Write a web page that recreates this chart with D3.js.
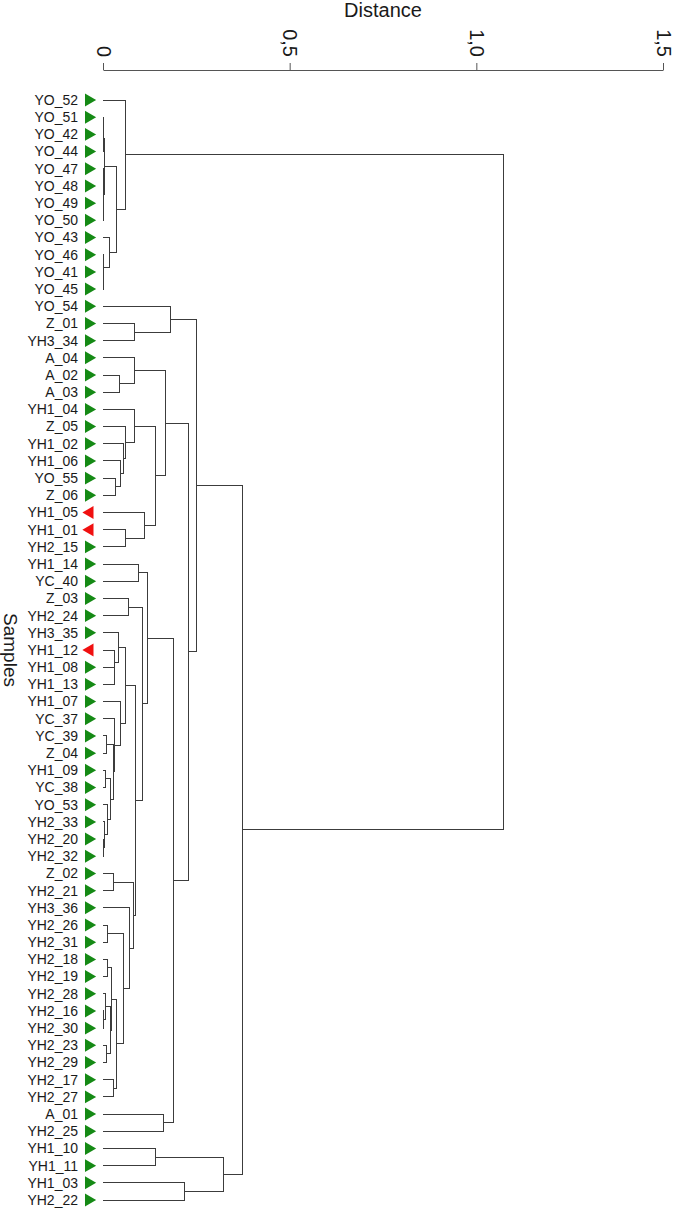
<!DOCTYPE html>
<html>
<head>
<meta charset="utf-8">
<script src="https://cdn.jsdelivr.net/npm/d3@7"></script>
<style>
  body { margin: 0; background: #fff; }
  svg { display: block; font-family: Arial, "Liberation Sans", sans-serif; }
</style>
</head>
<body>
<script>
// leaf order, top to bottom
var samples = ["YO_52","YO_51","YO_42","YO_44","YO_47","YO_48","YO_49","YO_50","YO_43","YO_46","YO_41","YO_45",
  "YO_54","Z_01","YH3_34","A_04","A_02","A_03","YH1_04","Z_05","YH1_02","YH1_06","YO_55","Z_06",
  "YH1_05","YH1_01","YH2_15","YH1_14","YC_40","Z_03","YH2_24","YH3_35","YH1_12","YH1_08","YH1_13",
  "YH1_07","YC_37","YC_39","Z_04","YH1_09","YC_38","YO_53","YH2_33","YH2_20","YH2_32","Z_02","YH2_21",
  "YH3_36","YH2_26","YH2_31","YH2_18","YH2_19","YH2_28","YH2_16","YH2_30","YH2_23","YH2_29","YH2_17",
  "YH2_27","A_01","YH2_25","YH1_10","YH1_11","YH1_03","YH2_22"];

// samples drawn with the red, left-pointing marker
var flipped = ["YH1_05","YH1_01","YH1_12"];

// merge table: [left, right, distance]; a string is a sample, a number is an earlier row
var merges = [
  ["YO_51","YO_42",0.001],   // 0
  [0,"YO_44",0.002],         // 1
  ["YO_47","YO_48",0.001],   // 2
  ["YO_49","YO_50",0.001],   // 3
  [2,3,0.002],               // 4
  [1,4,0.003],               // 5
  ["YO_41","YO_45",0.001],   // 6
  ["YO_46",6,0.002],         // 7
  ["YO_43",7,0.017],         // 8
  [5,8,0.036],               // 9
  ["YO_52",9,0.061],         // 10
  ["Z_01","YH3_34",0.084],   // 11
  ["YO_54",11,0.181],        // 12
  ["A_02","A_03",0.044],     // 13
  ["A_04",13,0.085],         // 14
  ["YO_55","Z_06",0.033],    // 15
  ["YH1_06",15,0.047],       // 16
  ["YH1_02",16,0.054],       // 17
  ["Z_05",17,0.061],         // 18
  ["YH1_04",18,0.084],       // 19
  ["YH1_01","YH2_15",0.061], // 20
  ["YH1_05",20,0.110],       // 21
  [19,21,0.141],             // 22
  [14,22,0.167],             // 23
  ["YH1_14","YC_40",0.094],  // 24
  ["Z_03","YH2_24",0.069],   // 25
  ["YH1_08","YH1_13",0.030], // 26
  ["YH1_12",26,0.032],       // 27
  ["YH3_35",27,0.041],       // 28
  ["YC_39","Z_04",0.010],    // 29
  ["YH1_09","YC_38",0.008],  // 30
  ["YH2_20","YH2_32",0.001], // 31
  ["YH2_33",31,0.003],       // 32
  ["YO_53",32,0.013],        // 33
  [30,33,0.019],             // 34
  [29,34,0.027],             // 35
  ["YC_37",35,0.030],        // 36
  ["YH1_07",36,0.048],       // 37
  [28,37,0.059],             // 38
  ["Z_02","YH2_21",0.029],   // 39
  ["YH2_26","YH2_31",0.011], // 40
  ["YH2_18","YH2_19",0.011], // 41
  ["YH2_16","YH2_30",0.002], // 42
  ["YH2_28",42,0.008],       // 43
  ["YH2_23","YH2_29",0.010], // 44
  [43,44,0.019],             // 45
  [41,45,0.023],             // 46
  ["YH2_17","YH2_27",0.028], // 47
  [46,47,0.036],             // 48
  [40,48,0.054],             // 49
  ["YH3_36",49,0.072],       // 50
  [39,50,0.083],             // 51
  [38,51,0.087],             // 52
  [25,52,0.105],             // 53
  [24,53,0.118],             // 54
  ["A_01","YH2_25",0.163],   // 55
  [54,55,0.189],             // 56
  [23,56,0.229],             // 57
  [12,57,0.251],             // 58
  ["YH1_10","YH1_11",0.141], // 59
  ["YH1_03","YH2_22",0.219], // 60
  [59,60,0.323],             // 61
  [58,61,0.373],             // 62
  [10,62,1.074]              // 63
];

var distTicks = [0, 0.5, 1.0, 1.5];
var distTickLabels = ["0", "0,5", "1,0", "1,5"];

var width = 675, height = 1210;

var svg = d3.select("body").append("svg")
  .attr("width", width)
  .attr("height", height);

var x = d3.scaleLinear().domain([0, 1.5]).range([103, 663]);
var y = d3.scalePoint().domain(samples).range([100, 1200]);

// turn the merge table into a nested object for d3.hierarchy
var built = [];
function toNode(ref){
  if(typeof ref === "string") return {name: ref, dist: 0};
  return built[ref];
}
merges.forEach(function(m, i){
  built[i] = {dist: m[2], children: [toNode(m[0]), toNode(m[1])]};
});

var root = d3.hierarchy(built[built.length - 1]);
root.eachAfter(function(n){
  if(n.children) n.py = d3.mean(n.children, function(c){ return c.py; });
  else n.py = y(n.data.name);
});

// elbows
svg.append("g")
  .attr("fill", "none")
  .attr("stroke", "#3c3c3c")
  .attr("stroke-width", 1)
  .attr("shape-rendering", "crispEdges")
  .selectAll("path")
  .data(root.links())
  .join("path")
  .attr("d", function(l){
    return "M" + x(l.target.data.dist) + "," + l.target.py +
           "H" + x(l.source.data.dist) + "V" + l.source.py;
  });

// leaf labels
var leaves = svg.append("g").selectAll("g")
  .data(samples)
  .join("g")
  .attr("transform", function(d){ return "translate(0," + y(d) + ")"; });

leaves.append("text")
  .attr("x", 78)
  .attr("dy", "0.35em")
  .attr("text-anchor", "end")
  .attr("font-size", 14)
  .attr("fill", "#1a1a1a")
  .text(function(d){ return d; });

var tri = d3.symbol(d3.symbolTriangle, 72);
leaves.append("path")
  .attr("d", tri)
  .attr("fill", function(d){ return flipped.indexOf(d) >= 0 ? "#f01010" : "#158a15"; })
  .attr("transform", function(d){
    return flipped.indexOf(d) >= 0 ? "translate(89.8,0) rotate(-90)" : "translate(88.7,0) rotate(90)";
  });

// distance axis
var axis = svg.append("g")
  .attr("transform", "translate(0,70)")
  .call(d3.axisTop(x)
    .tickValues(distTicks)
    .tickFormat(function(d, i){ return distTickLabels[i]; })
    .tickSize(7)
    .tickSizeOuter(0));

axis.select(".domain").attr("stroke", "#555");
axis.selectAll(".tick line").attr("stroke", "#555");
axis.selectAll(".tick text")
  .attr("font-size", 20)
  .attr("font-family", "Arial, 'Liberation Sans', sans-serif")
  .attr("fill", "#1a1a1a")
  .attr("text-anchor", "end")
  .attr("x", -13)
  .attr("y", 0)
  .attr("dy", "0.35em")
  .attr("transform", "rotate(90)");

svg.append("text")
  .attr("x", (x(0) + x(1.5)) / 2)
  .attr("y", 17)
  .attr("text-anchor", "middle")
  .attr("font-size", 20)
  .attr("fill", "#1a1a1a")
  .text("Distance");

svg.append("text")
  .attr("transform", "translate(4,650) rotate(90)")
  .attr("text-anchor", "middle")
  .attr("font-size", 19)
  .attr("fill", "#1a1a1a")
  .text("Samples");
</script>
</body>
</html>
